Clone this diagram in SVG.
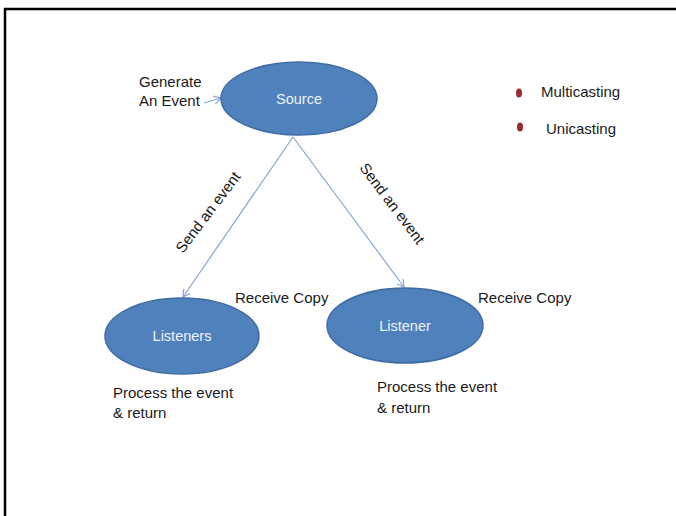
<svg xmlns="http://www.w3.org/2000/svg" width="676" height="516" viewBox="0 0 676 516">
<defs>
<style>
.node{fill:#4f81bd;stroke:#3f6ca3;stroke-width:1.5}
.lbl{font-family:"Liberation Sans",Arial,sans-serif;font-size:15px;fill:#1a1a1a}
.wt{font-family:"Liberation Sans",Arial,sans-serif;font-size:14.5px;fill:#eef3fa;text-anchor:middle}
.con{stroke:#86a6d2;stroke-width:1.2;fill:none;marker-end:url(#ah)}
</style>
<marker id="ah" markerWidth="10" markerHeight="10" refX="8" refY="5" orient="auto" markerUnits="userSpaceOnUse">
<path d="M1,1 L8,5 L1,9" fill="none" stroke="#86a6d2" stroke-width="1.2"/>
</marker>
</defs>
<rect width="676" height="516" fill="#ffffff"/>
<path d="M5,516 V9 H676" fill="none" stroke="#000" stroke-width="2.5"/>
<g id="connectors">
<line class="con" x1="204" y1="103" x2="221" y2="98"/>
<line class="con" x1="293" y1="137" x2="183" y2="297"/>
<line class="con" x1="293" y1="137" x2="404" y2="287"/>
</g>
<g id="source">
<ellipse class="node" cx="299" cy="98.5" rx="78" ry="36.5"/>
<text class="wt" x="299" y="104">Source</text>
</g>
<g id="listeners">
<ellipse class="node" cx="182" cy="336" rx="77" ry="38"/>
<text class="wt" x="182" y="341">Listeners</text>
</g>
<g id="listener">
<ellipse class="node" cx="405" cy="325.5" rx="78" ry="37.5"/>
<text class="wt" x="405" y="331">Listener</text>
</g>
<g id="labels">
<text class="lbl" x="139" y="87">Generate</text>
<text class="lbl" x="139" y="106">An Event</text>
<text class="lbl" transform="translate(183,254) rotate(-53)">Send an event</text>
<text class="lbl" transform="translate(359,168) rotate(53)">Send an event</text>
<text class="lbl" x="235" y="303">Receive Copy</text>
<text class="lbl" x="478" y="303">Receive Copy</text>
<text class="lbl" x="113" y="398">Process the event</text>
<text class="lbl" x="113" y="418">&amp; return</text>
<text class="lbl" x="377" y="392">Process the event</text>
<text class="lbl" x="377" y="413">&amp; return</text>
</g>
<g id="legend">
<ellipse cx="519" cy="93" rx="3" ry="4.5" fill="#9c2a2e"/>
<text class="lbl" x="541" y="97">Multicasting</text>
<ellipse cx="520" cy="127" rx="3" ry="4.5" fill="#9c2a2e"/>
<text class="lbl" x="546" y="134">Unicasting</text>
</g>
</svg>
